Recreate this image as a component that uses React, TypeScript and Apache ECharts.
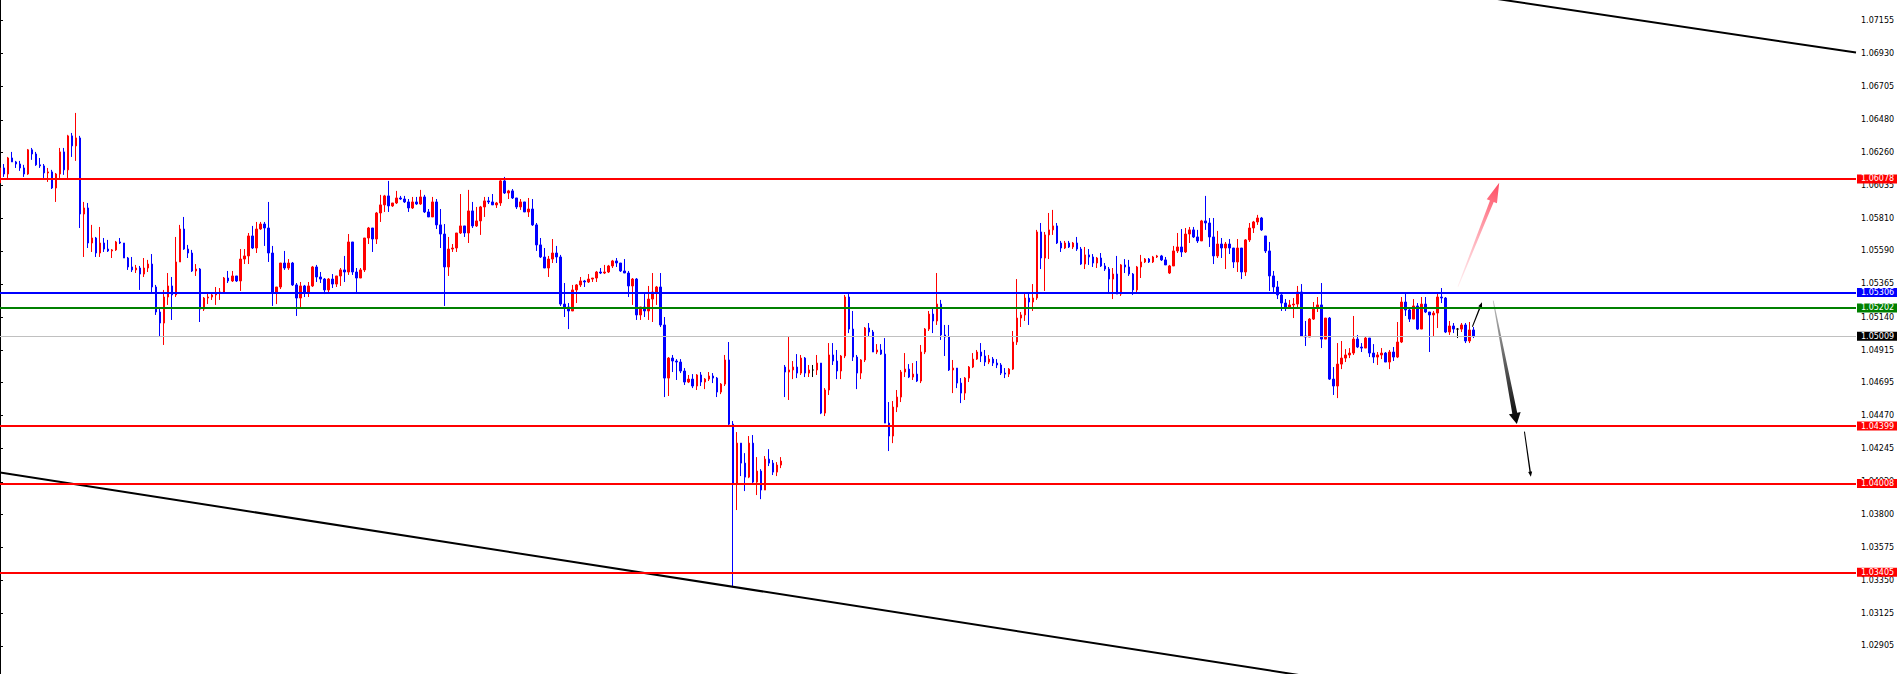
import React, { useEffect, useRef } from "react";
import * as echarts from "echarts";

// Candles, prices in points (1e-5), each [open, close, low, high]
const weekA: number[][] = [
  [106051,106153,106038,106167],[106153,106112,106092,106180],[106112,106221,106085,106228],[106221,106194,106194,106262],[106194,106180,106153,106201],
  [106180,106153,106133,106201],[106153,106112,106092,106174],[106112,106276,106106,106282],[106276,106248,106208,106289],[106248,106174,106167,106262],
  [106174,106167,106153,106221],[106167,106119,106085,106180],[106119,106126,106058,106153],[106126,106017,106010,106140],[106017,106112,105922,106119],
  [106112,106262,106085,106289],[106262,106140,106106,106289],[106140,106371,106085,106378],[106371,106303,106228,106391],[106303,106357,106201,106527],
  [106357,105840,105745,106371],[105840,105881,105548,105922],[105881,105643,105609,105915],[105643,105677,105582,105766],[105677,105575,105548,105684],
  [105575,105643,105548,105752],[105643,105602,105582,105677],[105602,105589,105582,105664],[105589,105596,105541,105602],[105596,105650,105589,105657],
  [105650,105643,105636,105677],[105643,105541,105541,105643],[105541,105480,105460,105548],[105480,105460,105446,105548],[105460,105473,105439,105494],
  [105473,105432,105324,105487],[105432,105473,105412,105541],[105473,105500,105446,105528],[105500,105344,105310,105568],[105344,105174,105154,105358],
  [105174,105099,105004,105201],[105099,105276,104950,105324],[105276,105351,105222,105439],[105351,105290,105120,105412],[105290,105514,105276,105684],
  [105514,105738,105514,105766],[105738,105602,105596,105820],[105602,105575,105541,105630],[105575,105453,105446,105596],[105453,105466,105419,105500],
  [105466,105194,105106,105473],[105194,105269,105181,105276],[105269,105276,105228,105303],[105276,105290,105256,105310],[105290,105303,105222,105344],
  [105303,105310,105256,105337],[105310,105405,105303,105412],[105405,105385,105371,105453],[105385,105419,105378,105453],[105419,105385,105378,105419],
  [105385,105534,105317,105602],[105534,105555,105500,105602],[105555,105691,105500,105711],[105691,105609,105602,105759],[105609,105738,105575,105786],
  [105738,105772,105732,105786],[105772,105745,105623,105786],[105745,105575,105514,105922],[105575,105303,105215,105623],[105303,105344,105228,105344],
  [105344,105507,105330,105507],[105507,105473,105460,105589],[105473,105507,105460,105534],[105507,105358,105351,105514],[105358,105269,105147,105371],
  [105269,105351,105208,105378],[105351,105303,105276,105358],[105303,105351,105276,105378],[105351,105480,105344,105487],[105480,105412,105378,105494],
  [105412,105398,105371,105446],[105398,105324,105296,105405],[105324,105398,105310,105405],[105398,105364,105337,105432],[105364,105419,105344,105419],
  [105419,105460,105351,105473],[105460,105446,105378,105555],[105446,105650,105426,105704],[105650,105446,105426,105650],[105446,105405,105303,105473],
  [105405,105460,105405,105473],[105460,105677,105446,105677],[105677,105745,105636,105752],[105745,105670,105582,105745],[105670,105847,105636,105854],
  [105847,105902,105786,105970],[105902,105963,105854,105970],[105963,105895,105854,106065],[105895,105915,105888,105915],[105915,105949,105908,105997],
];

const weekB: number[][] = [
  [105949,105942,105936,105963],[105942,105922,105915,105963],[105922,105881,105854,105942],[105881,105922,105874,105956],[105922,105908,105902,105956],
  [105908,105956,105902,106004],[105956,105854,105847,105970],[105854,105820,105820,105874],[105820,105922,105820,105956],[105922,105766,105738,105942],
  [105766,105704,105609,105874],[105704,105480,105215,105772],[105480,105602,105419,105684],[105602,105609,105582,105636],[105609,105711,105582,105711],
  [105711,105759,105704,105976],[105759,105711,105684,105759],[105711,105861,105643,106004],[105861,105759,105745,105922],[105759,105793,105752,105888],
  [105793,105888,105698,105895],[105888,105929,105820,105956],[105929,105922,105908,105956],[105922,105902,105902,105976],[105902,105915,105881,105922],
  [105915,106065,105895,106078],[106065,105983,105976,106092],[105983,105997,105942,106004],[105997,105949,105942,106010],[105949,105888,105874,105949],
  [105888,105922,105868,105942],[105922,105854,105854,105922],[105854,105874,105820,105949],[105874,105766,105759,105942],[105766,105630,105589,105779],
  [105630,105548,105541,105677],[105548,105473,105473,105609],[105473,105534,105412,105555],[105534,105575,105507,105670],[105575,105548,105507,105623],
  [105548,105228,105215,105562],[105228,105208,105140,105371],[105208,105181,105058,105235],[105181,105324,105181,105358],[105324,105358,105235,105364],
  [105358,105385,105344,105412],[105385,105378,105344,105392],[105378,105398,105371,105432],[105398,105405,105378,105405],[105405,105446,105378,105453],
  [105446,105439,105432,105473],[105439,105446,105432,105494],[105446,105487,105439,105494],[105487,105521,105473,105528],[105521,105507,105480,105541],
  [105507,105453,105446,105507],[105453,105439,105439,105534],[105439,105351,105276,105453],[105351,105398,105222,105405],[105398,105154,105120,105405],
  [105154,105208,105120,105208],[105208,105181,105140,105303],[105181,105262,105120,105351],[105262,105310,105106,105439],[105310,105344,105222,105351],
  [105344,105086,105072,105439],[105086,104725,104596,105140],[104725,104861,104603,104868],[104861,104841,104766,104882],[104841,104834,104712,104854],
  [104834,104773,104759,104854],[104773,104698,104678,104793],[104698,104718,104691,104746],[104718,104671,104657,104752],[104671,104746,104644,104752],
  [104746,104698,104671,104766],[104698,104718,104650,104725],[104718,104739,104705,104766],[104739,104725,104691,104759],[104725,104630,104596,104732],
  [104630,104684,104616,104691],[104684,104848,104671,104882],[104848,104412,104406,104970],[104412,104004,103304,104433],[104004,104283,103828,104358],
  [104283,104147,104059,104283],[104147,104052,103957,104215],[104052,104283,104045,104331],[104283,104018,104011,104338],[104018,104093,103930,104188],
  [104093,103964,103902,104106],[103964,104174,103964,104195],[104174,104147,104127,104242],[104147,104086,104066,104168],[104086,104134,104059,104154],
  [104134,104161,104113,104188],
];

const weekC: number[][] = [
  [104800,104766,104596,104814],[104766,104780,104576,105004],[104780,104800,104718,104841],[104800,104759,104725,104888],
  [104759,104861,104746,104882],[104861,104759,104732,104868],[104759,104780,104732,104814],[104780,104780,104732,104814],[104780,104827,104746,104882],
  [104827,104487,104480,104827],[104487,104644,104467,104657],[104644,104882,104610,104963],[104882,104841,104814,104963],[104841,104773,104718,104916],
  [104773,104875,104718,104882],[104875,105276,104861,105290],[105276,105058,105031,105296],[105058,104868,104841,105181],[104868,104759,104650,104882],
  [104759,104848,104718,104854],[104848,105065,104834,105072],[105065,105038,105004,105099],[105038,104902,104902,105052],[104902,104916,104888,104956],
  [104916,104888,104882,104956],[104888,104419,104419,104997],[104419,104331,104229,104562],[104331,104528,104283,104569],[104528,104596,104494,104644],
  [104596,104766,104562,104780],[104766,104786,104732,104895],[104786,104732,104725,104820],[104732,104752,104712,104827],[104752,104705,104698,104841],
  [104705,104902,104691,104950],[104902,105058,104888,105065],[105058,105160,105045,105181],[105160,105113,105031,105201],[105113,105228,105086,105439],
  [105228,105018,104984,105256],[105018,105004,104875,105086],[105004,104780,104773,105086],[104780,104793,104623,104848],[104793,104691,104657,104793],
  [104691,104623,104555,104725],[104623,104725,104576,104732],[104725,104800,104698,104807],[104800,104854,104793,104895],[104854,104902,104848,104916],
  [104902,104875,104834,104963],[104875,104834,104807,104916],[104834,104854,104820,104882],[104854,104827,104807,104868],[104827,104814,104793,104854],
  [104814,104759,104746,104827],[104759,104752,104725,104793],[104752,104786,104732,104793],[104786,104970,104780,105045],[104970,105133,104950,105398],
  [105133,105154,105072,105174],[105154,105269,105113,105303],[105269,105242,105086,105303],[105242,105269,105181,105364],[105269,105718,105256,105732],
  [105718,105541,105466,105779],[105541,105698,105317,105718],[105698,105732,105534,105847],[105732,105759,105698,105868],[105759,105643,105636,105779],
  [105643,105609,105582,105657],[105609,105643,105602,105657],[105643,105616,105609,105657],[105616,105643,105602,105650],[105643,105602,105589,105684],
  [105602,105500,105494,105616],[105500,105562,105466,105616],[105562,105548,105494,105602],[105548,105507,105480,105568],[105507,105541,105473,105548],
  [105541,105487,105480,105575],[105487,105466,105453,105507],[105466,105398,105303,105480],[105398,105432,105262,105473],[105432,105296,105296,105555],
  [105296,105494,105283,105500],[105494,105480,105439,105534],[105480,105432,105419,105528],[105432,105324,105290,105439],[105324,105480,105310,105487],
  [105480,105514,105405,105562],[105514,105534,105507,105541],[105534,105514,105507,105541],[105514,105548,105507,105555],[105548,105555,105541,105562],
  [105555,105528,105521,105562],[105528,105494,105494,105548],[105439,105487,105432,105494],[105487,105589,105487,105623],[105589,105616,105575,105711],
  [105616,105582,105548,105738],[105582,105704,105575,105745],[105704,105732,105643,105752],[105732,105684,105677,105752],[105684,105657,105643,105732],
];

const weekD: number[][] = [
  [105657,105793,105657,105800],[105793,105779,105732,105963],[105779,105684,105616,105813],[105684,105555,105500,105813],[105555,105636,105541,105725],
  [105636,105609,105541,105677],[105609,105636,105466,105650],[105636,105609,105568,105670],[105609,105514,105473,105609],[105514,105609,105446,105670],
  [105609,105446,105398,105609],[105446,105664,105419,105670],[105664,105745,105650,105779],[105745,105786,105711,105793],[105786,105813,105766,105834],
  [105813,105732,105725,105820],[105691,105589,105575,105691],[105589,105419,105317,105650],[105419,105344,105303,105453],[105344,105290,105262,105385],
  [105290,105235,105181,105296],[105235,105201,105181,105262],[105201,105222,105201,105256],[105222,105228,105133,105269],[105228,105310,105208,105351],
  [105310,105011,105004,105364],[105011,105004,104943,105113],[105004,105126,105004,105133],[105126,105201,105120,105242],[105201,105222,105174,105276],
  [105222,104990,104929,105371],[104990,105133,104990,105133],[105133,104718,104712,105140],[104718,104671,104610,104800],[104671,104820,104589,104963],
  [104820,104861,104786,104977],[104861,104882,104834,104922],[104882,104895,104861,104929],[104895,104990,104882,105147],[104990,104936,104929,105018],
  [104936,104929,104902,104963],[104929,104997,104929,105004],[104997,104895,104868,104997],[104895,104868,104827,104956],[104868,104882,104814,104902],
  [104882,104895,104854,104929],[104895,104834,104834,104902],[104834,104902,104786,104916],[104902,104868,104841,104936],[104868,104970,104861,105106],
  [104970,105242,104963,105276],[105242,105188,105147,105303],[105188,105126,105106,105208],[105126,105215,105126,105262],[105215,105058,105052,105235],
  [105058,105228,105058,105276],[105228,105174,105167,105276],[105174,105154,104902,105174],[105154,105167,105011,105181],[105167,105276,105065,105303],
  [105276,105269,105235,105337],[105269,105038,105031,105276],[105038,105079,105018,105113],[105079,105058,105031,105099],[105058,105058,104997,105065],
  [105058,105086,105038,105099],[105086,104977,104963,105099],[104977,105052,104963,105106],[105052,105009,104997,105072],
];

// Price axis tick labels
const yTickValues = [1.07155, 1.0693, 1.06705, 1.0648, 1.0626, 1.06035, 1.0581, 1.0559, 1.05365, 1.0514,
  1.04915, 1.04695, 1.0447, 1.04245, 1.0402, 1.038, 1.03575, 1.0335, 1.03125, 1.02905];

// Horizontal levels
const redLevels = [1.06078, 1.04399, 1.04008, 1.03405];
const blueLevel = 1.05306;
const greenLevel = 1.05202;
const bidPrice = 1.05009;

// Trend lines (bar index, price)
const upperTrendIdx = [360, 463.5];
const upperTrendPrice = [1.07358, 1.06937];
const lowerTrendIdx = [0, 330];
const lowerTrendPrice = [1.04083, 1.02683];

// Arrows (bar index, price)
const arrowFromIdx = [364.1, 367.7, 372.9, 380.7];
const arrowFromPrice = [1.05346, 1.05074, 1.05251, 1.04361];
const arrowToIdx = [374.4, 370.1, 378.8, 382.3];
const arrowToPrice = [1.06053, 1.0524, 1.04413, 1.04055];

const PRICE_MIN = 1.027138;
const PRICE_MAX = 1.072945;
const SLOTS = 464;

const ARROW_STYLES = [
  { tail: 0.8, shaft: 4, headW: 11, headLen: 20, grad: ["rgba(255,140,155,0.15)", "#ff4a60"] },
  { tail: 1, shaft: 1.4, headW: 4, headLen: 5, color: "#000" },
  { tail: 0.8, shaft: 5, headW: 12, headLen: 11, grad: ["rgba(0,0,0,0.25)", "#000"] },
  { tail: 1, shaft: 1.4, headW: 4, headLen: 5, color: "#000" },
];

export default function App() {
  const ref = useRef<HTMLDivElement>(null);
  useEffect(() => {
    if (!ref.current) return;
    const chart = echarts.init(ref.current, undefined, { renderer: "svg" });
    const candles = [...weekA, ...weekB, ...weekC, ...weekD].map((c) => c.map((v) => v / 1e5));
    const slots = Array.from({ length: SLOTS }, (_, i) => String(i));
    const FONT = "DejaVu Sans";

    const level = (v: number, color: string, width: number, tag: string) => ({
      yAxis: v,
      lineStyle: { color, width, type: "solid" },
      label: {
        show: true,
        position: "end",
        formatter: v.toFixed(5),
        color: "#ffffff",
        backgroundColor: tag,
        fontSize: 8,
        fontFamily: FONT,
        lineHeight: 9,
        padding: [0, 4, 0, 4],
        distance: 1,
      },
    });

    const arrowData = arrowFromIdx.map((x, i) => [x, arrowFromPrice[i], arrowToIdx[i], arrowToPrice[i]]);

    const option: any = {
      animation: false,
      backgroundColor: "#ffffff",
      grid: { left: -2, top: 0, right: 41, bottom: 0, containLabel: false, outerBoundsMode: "none" },
      xAxis: [
        { type: "category", data: slots, show: false, boundaryGap: true },
        { type: "value", min: -0.5, max: SLOTS - 0.5, show: false },
      ],
      yAxis: {
        type: "value",
        position: "right",
        min: PRICE_MIN,
        max: PRICE_MAX,
        axisLine: { show: true, lineStyle: { color: "#000", width: 1 } },
        axisTick: { show: true, length: 3, customValues: yTickValues, lineStyle: { color: "#000" } },
        axisLabel: {
          show: true,
          customValues: yTickValues,
          formatter: (v: number) => v.toFixed(5),
          color: "#000",
          fontSize: 8,
          fontFamily: FONT,
          margin: 5,
        },
        splitLine: { show: false },
      },
      series: [
        {
          type: "candlestick",
          xAxisIndex: 0,
          data: candles,
          barWidth: 2,
          itemStyle: {
            color: "#ff0000",
            color0: "#0000ff",
            borderColor: "#ff0000",
            borderColor0: "#0000ff",
            borderColorDoji: "#000000",
            borderWidth: 1,
          },
          markLine: {
            silent: true,
            symbol: ["none", "none"],
            animation: false,
            precision: 5,
            data: [
              level(bidPrice, "#c0c0c0", 1, "#000000"),
              ...redLevels.map((v) => level(v, "#ff0000", 2, "#ff0000")),
              level(blueLevel, "#0000ff", 2, "#0000ff"),
              level(greenLevel, "#008000", 2, "#008000"),
            ],
          },
        },
        {
          type: "line",
          xAxisIndex: 1,
          data: upperTrendIdx.map((x, i) => [x, upperTrendPrice[i]]),
          symbol: "none",
          silent: true,
          lineStyle: { color: "#000", width: 2 },
          clip: true,
        },
        {
          type: "line",
          xAxisIndex: 1,
          data: lowerTrendIdx.map((x, i) => [x, lowerTrendPrice[i]]),
          symbol: "none",
          silent: true,
          lineStyle: { color: "#000", width: 2 },
          clip: true,
        },
        {
          type: "custom",
          xAxisIndex: 1,
          data: arrowData,
          encode: { x: [0, 2], y: [1, 3] },
          silent: true,
          clip: false,
          renderItem: (params: any, api: any) => {
            const st: any = ARROW_STYLES[params.dataIndex];
            const p1 = api.coord([api.value(0), api.value(1)]);
            const p2 = api.coord([api.value(2), api.value(3)]);
            const dx = p2[0] - p1[0];
            const dy = p2[1] - p1[1];
            const len = Math.hypot(dx, dy) || 1;
            const ux = dx / len;
            const uy = dy / len;
            const nx = -uy;
            const ny = ux;
            const bx = p2[0] - ux * st.headLen;
            const by = p2[1] - uy * st.headLen;
            const pt = (x: number, y: number, w: number, s: number) => [x + (nx * w * s) / 2, y + (ny * w * s) / 2];
            const points = [
              pt(p1[0], p1[1], st.tail, 1),
              pt(bx, by, st.shaft, 1),
              pt(bx, by, st.headW, 1),
              p2,
              pt(bx, by, st.headW, -1),
              pt(bx, by, st.shaft, -1),
              pt(p1[0], p1[1], st.tail, -1),
            ];
            const fill = st.grad
              ? new echarts.graphic.LinearGradient(p1[0], p1[1], p2[0], p2[1], [
                  { offset: 0, color: st.grad[0] },
                  { offset: 1, color: st.grad[1] },
                ], true)
              : st.color;
            return { type: "polygon", shape: { points }, style: { fill }, silent: true };
          },
        },
      ],
    };
    chart.setOption(option);
    return () => chart.dispose();
  }, []);

  return (
    <div
      ref={ref}
      style={{ position: "fixed", left: 0, top: 0, width: 1897, height: 674, background: "#ffffff" }}
    />
  );
}
